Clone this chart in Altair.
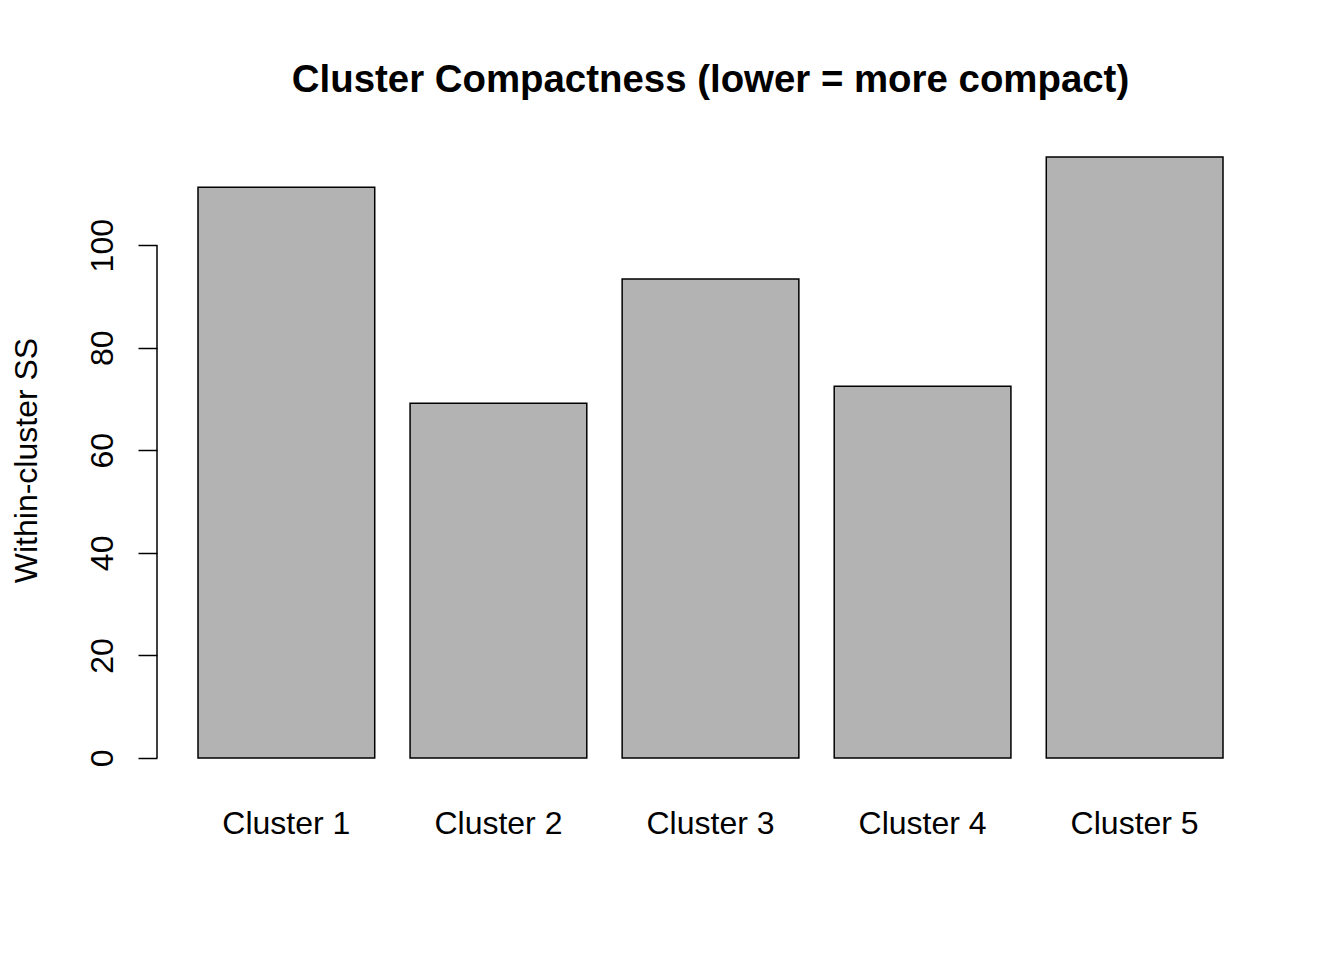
import altair as alt
import pandas as pd

categories = ["Cluster 1", "Cluster 2", "Cluster 3", "Cluster 4", "Cluster 5"]
wss = [111.3, 69.2, 93.4, 72.5, 117.2]
y_ticks = [0, 20, 40, 60, 80, 100]

df = pd.DataFrame({"cluster": categories, "wss": wss, "zero": [0] * len(wss)})
axis_df = pd.DataFrame({"y0": [0], "y1": [100]})

FONT = "Liberation Sans"
ymax = max(wss)
ext = 0.04 * ymax
yscale = alt.Scale(domain=[-ext, ymax + ext], nice=False, zero=False)

bars = alt.Chart(df).mark_bar(
    fill="#B3B3B3", stroke="black", strokeWidth=1.5
).encode(
    x=alt.X(
        "cluster:N",
        sort=categories,
        scale=alt.Scale(paddingInner=0.2 / 1.2, paddingOuter=0.232 / 1.2),
        axis=alt.Axis(
            title=None, labelAngle=0, ticks=False, tickSize=0, domain=False,
            labelFont=FONT, labelFontSize=32, labelColor="black",
            labelBaseline="alphabetic", labelPadding=51,
        ),
    ),
    y=alt.Y(
        "wss:Q",
        scale=yscale,
        axis=alt.Axis(
            values=y_ticks, grid=False, domain=False,
            tickSize=19, tickColor="black", tickWidth=1.5,
            labelFont=FONT, labelFontSize=32, labelColor="black",
            labelAngle=270, labelAlign="center", labelBaseline="alphabetic",
            labelPadding=26,
            title="Within-cluster SS", titleFont=FONT, titleFontSize=32,
            titleFontWeight="normal", titleColor="black", titleAngle=270,
            titleBaseline="alphabetic", titleAlign="center",
            titleX=-121, titleY=327,
        ),
    ),
    y2="zero:Q",
)

axis_line = alt.Chart(axis_df).mark_rule(color="black", strokeWidth=1.5).encode(
    x=alt.value(0),
    y=alt.Y("y0:Q", scale=yscale),
    y2="y1:Q",
)

chart = alt.layer(bars, axis_line).properties(
    width=1107,
    height=649,
    title=alt.TitleParams(
        "Cluster Compactness (lower = more compact)",
        font=FONT, fontSize=38.4, fontWeight="bold", color="black",
        anchor="middle", baseline="alphabetic", offset=3,
    ),
    autosize=alt.AutoSizeParams(type="none"),
    padding={"left": 149, "top": 125, "right": 60, "bottom": 160},
    background="white",
).configure_view(stroke=None)

chart.save("out.html", embed_options={"renderer": "svg", "actions": False})
